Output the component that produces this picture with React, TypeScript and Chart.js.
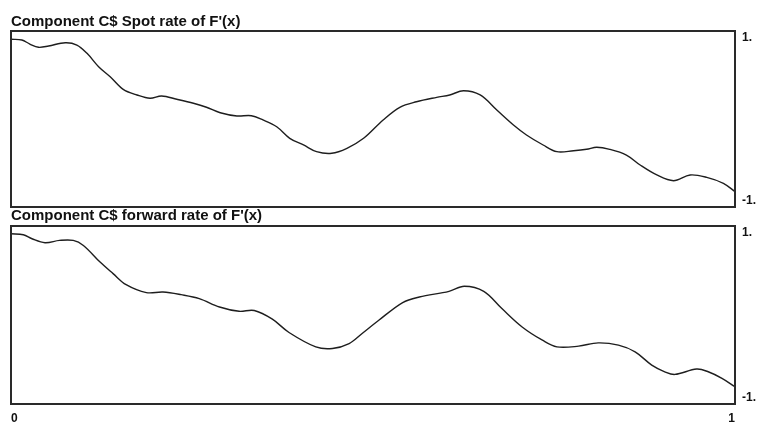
import React, { useEffect, useRef } from "react";
import { Chart, registerables } from "chart.js";

Chart.register(...registerables);

// Top panel: Component C$ Spot rate of F'(x)
const spotX = [0, 0.015, 0.026, 0.038, 0.052, 0.075, 0.091, 0.105, 0.121, 0.137, 0.155, 0.174, 0.192, 0.208, 0.229, 0.252, 0.27, 0.289, 0.312, 0.332, 0.348, 0.367, 0.385, 0.404, 0.422, 0.443, 0.464, 0.487, 0.514, 0.537, 0.56, 0.588, 0.606, 0.625, 0.648, 0.671, 0.694, 0.712, 0.735, 0.754, 0.777, 0.795, 0.809, 0.827, 0.85, 0.869, 0.892, 0.915, 0.938, 0.961, 0.984, 1];
const spotY = [0.978, 0.97, 0.92, 0.88, 0.896, 0.936, 0.908, 0.806, 0.642, 0.519, 0.364, 0.295, 0.254, 0.282, 0.242, 0.193, 0.144, 0.077, 0.037, 0.04, -0.012, -0.095, -0.237, -0.319, -0.401, -0.421, -0.36, -0.237, -0.012, 0.144, 0.212, 0.266, 0.295, 0.347, 0.295, 0.11, -0.074, -0.196, -0.319, -0.401, -0.389, -0.372, -0.347, -0.372, -0.442, -0.565, -0.687, -0.757, -0.687, -0.716, -0.789, -0.892];

// Bottom panel: Component C$ forward rate of F'(x)
const fwdX = [0, 0.017, 0.029, 0.047, 0.067, 0.086, 0.1, 0.123, 0.141, 0.159, 0.187, 0.21, 0.235, 0.26, 0.288, 0.315, 0.336, 0.361, 0.384, 0.421, 0.444, 0.467, 0.485, 0.508, 0.541, 0.564, 0.605, 0.626, 0.653, 0.678, 0.706, 0.734, 0.754, 0.784, 0.811, 0.839, 0.862, 0.885, 0.903, 0.917, 0.947, 0.963, 0.982, 1];
const fwdY = [0.986, 0.974, 0.925, 0.877, 0.905, 0.905, 0.844, 0.642, 0.502, 0.368, 0.272, 0.279, 0.247, 0.199, 0.097, 0.045, 0.054, -0.051, -0.212, -0.387, -0.406, -0.346, -0.224, -0.064, 0.151, 0.218, 0.287, 0.348, 0.287, 0.078, -0.145, -0.306, -0.387, -0.378, -0.338, -0.366, -0.447, -0.608, -0.689, -0.721, -0.656, -0.689, -0.769, -0.871];

const xTickValues = [0, 1];
const xTickLabels = ["0", "1"];
const yTickValues = [-1, 1];
const yTickLabels = ["-1.", "1."];
const titles = ["Component C$ Spot rate of F'(x)", "Component C$ forward rate of F'(x)"];

const FONT = "'Liberation Sans', Arial, sans-serif";

const framePlugin = {
  id: "frame",
  afterDraw(chart: any) {
    const { ctx, chartArea } = chart;
    ctx.save();
    ctx.strokeStyle = "#2a2a2a";
    ctx.lineWidth = 2;
    ctx.strokeRect(chartArea.left, chartArea.top, chartArea.right - chartArea.left, chartArea.bottom - chartArea.top);
    ctx.restore();
  },
};

function makeConfig(xs: number[], ys: number[], title: string, showX: boolean, titlePad: any, layoutPad: any): any {
  return {
    type: "line",
    data: {
      datasets: [
        {
          data: xs.map((x, i) => ({ x, y: ys[i] })),
          borderColor: "#1e1e1e",
          borderWidth: 1.4,
          pointRadius: 0,
          tension: 0.35,
          fill: false,
        },
      ],
    },
    options: {
      animation: false,
      responsive: false,
      layout: { padding: layoutPad },
      plugins: {
        legend: { display: false },
        tooltip: { enabled: false },
        title: {
          display: true,
          text: title,
          align: "start",
          color: "#111",
          font: { family: FONT, size: 15, weight: "bold", lineHeight: 1.2 },
          padding: titlePad,
        },
      },
      scales: {
        x: {
          type: "linear",
          min: 0,
          max: 1,
          display: showX,
          grid: { display: false, drawTicks: false },
          border: { display: false },
          afterBuildTicks: (scale: any) => {
            scale.ticks = xTickValues.map((v) => ({ value: v }));
          },
          afterFit: (scale: any) => {
            scale.height = showX ? 18 : 0;
            scale.paddingLeft = 0;
            scale.paddingRight = 0;
          },
          ticks: {
            align: "inner",
            maxRotation: 0,
            padding: 7,
            color: "#111",
            font: { family: FONT, size: 12, weight: "bold" },
            callback: (_v: any, i: number) => xTickLabels[i],
          },
        },
        y: {
          type: "linear",
          position: "right",
          min: -1.08,
          max: 1.08,
          grid: { display: false, drawTicks: false },
          border: { display: false },
          afterBuildTicks: (scale: any) => {
            scale.ticks = yTickValues.map((v) => ({ value: v }));
          },
          afterFit: (scale: any) => {
            scale.width = 24;
            scale.paddingTop = 0;
            scale.paddingBottom = 0;
          },
          ticks: {
            padding: 7,
            color: "#111",
            font: { family: FONT, size: 12, weight: "bold" },
            callback: (_v: any, i: number) => yTickLabels[i],
          },
        },
      },
    },
    plugins: [framePlugin],
  };
}

export default function App() {
  const topRef = useRef<HTMLCanvasElement>(null);
  const botRef = useRef<HTMLCanvasElement>(null);

  useEffect(() => {
    const c1 = new Chart(
      topRef.current as HTMLCanvasElement,
      makeConfig(spotX, spotY, titles[0], false, { top: 13, bottom: 0 }, { left: 11, right: 0, top: 0, bottom: 3 })
    );
    const c2 = new Chart(
      botRef.current as HTMLCanvasElement,
      makeConfig(fwdX, fwdY, titles[1], true, { top: 2, bottom: 1 }, { left: 11, right: 0, top: 0, bottom: 0 })
    );
    return () => {
      c1.destroy();
      c2.destroy();
    };
  }, []);

  return (
    <div style={{ position: "absolute", left: 0, top: 0, width: 759, height: 422, background: "#fff" }}>
      <canvas ref={topRef} width={759} height={210} style={{ position: "absolute", left: 0, top: 0, width: 759, height: 210 }} />
      <canvas ref={botRef} width={759} height={217} style={{ position: "absolute", left: 0, top: 205, width: 759, height: 217 }} />
    </div>
  );
}
